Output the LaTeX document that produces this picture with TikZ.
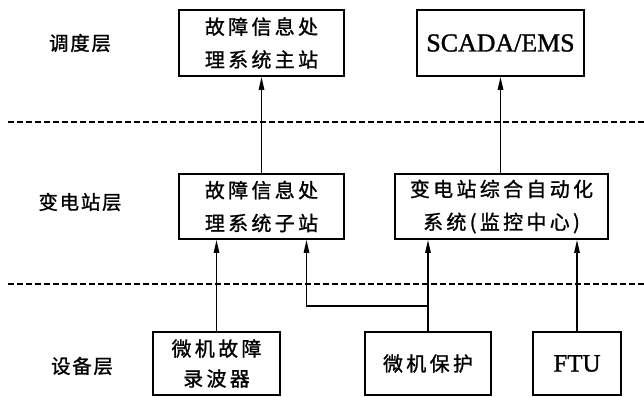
\documentclass[tikz,border=0pt]{standalone}
\usepackage{fontspec}
\setmainfont{Liberation Serif}
\newfontfamily\latb[FakeBold=1.2]{Liberation Serif}
\newfontfamily\cjk[LetterSpace=17,FakeBold=1.2]{Noto Sans CJK SC}
\newfontfamily\cjklab[LetterSpace=9,FakeBold=1.2]{Noto Sans CJK SC}
\usetikzlibrary{arrows.meta}
\begin{document}
\begin{tikzpicture}[x=1bp,y=-1bp,
  box/.style={draw, line width=1.8bp, inner sep=0pt, align=center,
    font=\cjk\fontsize{20}{33}\selectfont},
  lat/.style={font=\latb\fontsize{26}{30}\selectfont},
  lay/.style={font=\cjklab\fontsize{19.5}{22}\selectfont, inner sep=0pt},
  arr/.style={line width=1.4bp, -{Triangle[length=13bp,width=5.5bp]}},
  sep/.style={line width=1.3bp, dash pattern=on 6bp off 3bp}]
\useasboundingbox (0,0) rectangle (644,396);
% layer labels
\node[lay] (L1) at (80,43) {调度层};
\node[lay] (L2) at (80,202) {变电站层};
\node[lay] (L3) at (82,366) {设备层};
% separators
\coordinate (s1a) at (8,122); \coordinate (s1b) at (644,122);
\coordinate (s2a) at (8,284); \coordinate (s2b) at (644,284);
\draw[sep] (s1a) -- (s1b);
\draw[sep] (s2a) -- (s2b);
% boxes
\node[box, minimum width=165bp, minimum height=66bp] (A) at (261.5,43) {故障信息处\\理系统主站};
\node[box, lat, minimum width=167bp, minimum height=66bp] (B) at (500.5,43) {SCADA/EMS};
\node[box, minimum width=165bp, minimum height=65bp] (C) at (261.5,206.5) {故障信息处\\理系统子站};
\node[box, minimum width=213bp, minimum height=65bp] (D) at (501.5,206.5) {变电站综合自动化\\系统(监控中心)};
\node[box, minimum width=127bp, minimum height=63bp, font=\cjk\fontsize{20}{30}\selectfont] (E) at (216.5,363.5) {微机故障\\录波器};
\node[box, minimum width=126bp, minimum height=63bp] (F) at (428,363.5) {微机保护};
\node[box, lat, font=\latb\fontsize{25}{30}\selectfont, minimum width=88bp, minimum height=63bp] (G) at (577,363.5) {FTU};
% connectors
\draw[arr] (C.north) -- (A.south);
\draw[arr] (D.north -| B.south) -- (B.south);
\draw[arr] (E.north) -- (E.north |- C.south);
\draw[arr] (F.north) -- (F.north |- D.south);
\draw[arr] (G.north) -- (G.north |- D.south);
\coordinate (j) at (428,306);
\coordinate (cin) at ([xshift=45bp]C.south);
\draw[arr] (j) -| (cin);
\end{tikzpicture}
\end{document}
